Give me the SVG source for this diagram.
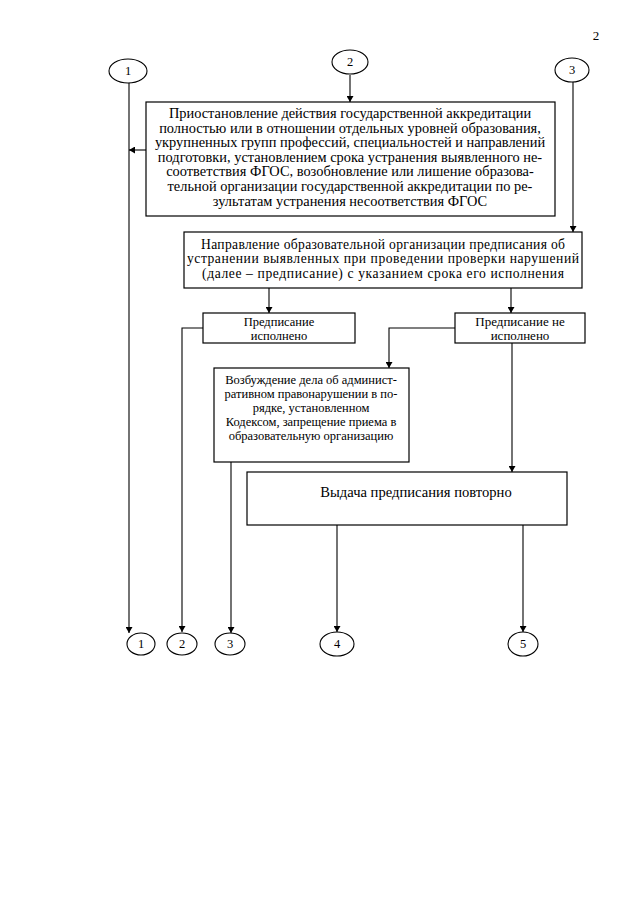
<svg xmlns="http://www.w3.org/2000/svg" width="640" height="905" viewBox="0 0 640 905">
<defs>
<marker id="ah" markerWidth="6" markerHeight="7" refX="6" refY="3.5" orient="auto" markerUnits="userSpaceOnUse">
<path d="M0,0 L6,3.5 L0,7 Z" fill="#000"/>
</marker>
<style>
.b{fill:#fff;stroke:#000;stroke-width:1.2}
.c{fill:#fff;stroke:#000;stroke-width:1.1}
.l{fill:none;stroke:#000;stroke-width:1.1}
.a{marker-end:url(#ah)}
text{font-family:"Liberation Serif","Times New Roman",serif;font-size:12.5px;fill:#000;text-anchor:middle}
.big{font-size:14.4px}
.mid{font-size:13.6px}
.n{font-size:12.5px}
</style>
</defs>
<rect width="640" height="905" fill="#fff"/>
<text x="596" y="40" style="font-size:13px">2</text>

<g id="connectors">
<path class="l a" d="M350,75 V102"/>
<path class="l a" d="M146,150 H129"/>
<path class="l a" d="M129,82 V633"/>
<path class="l a" d="M573,82 V232"/>
<path class="l a" d="M269,288 V313"/>
<path class="l a" d="M511,288 V313"/>
<path class="l a" d="M203,328 H182 V632"/>
<path class="l a" d="M455,328 H389 V368"/>
<path class="l a" d="M512,343 V472"/>
<path class="l a" d="M231,462 V633"/>
<path class="l a" d="M337,525 V632"/>
<path class="l a" d="M523,525 V632"/>
</g>

<g id="c1top"><ellipse class="c" cx="128" cy="71" rx="19" ry="12"/><text class="n" x="128" y="75">1</text></g>
<g id="c2top"><ellipse class="c" cx="350" cy="62" rx="18" ry="12"/><text class="n" x="350" y="66">2</text></g>
<g id="c3top"><ellipse class="c" cx="572" cy="70" rx="17" ry="12"/><text class="n" x="572" y="74">3</text></g>

<g id="box1">
<rect class="b" x="146" y="102" width="409" height="114"/>
<text class="big" x="350" y="118">Приостановление действия государственной аккредитации</text>
<text class="big" x="350" y="132.6">полностью или в отношении отдельных уровней образования,</text>
<text class="big" x="350" y="147.2">укрупненных групп профессий, специальностей и направлений</text>
<text class="big" x="350" y="161.8">подготовки, установлением срока устранения  выявленного не-</text>
<text class="big" x="350" y="176.4">соответствия ФГОС, возобновление или лишение образова-</text>
<text class="big" x="350" y="191">тельной организации государственной аккредитации по ре-</text>
<text class="big" x="350" y="205.6">зультатам устранения несоответствия ФГОС</text>
</g>

<g id="box2">
<rect class="b" x="184" y="232" width="398" height="56"/>
<text class="mid" x="383" y="249" textLength="364" lengthAdjust="spacing">Направление образовательной организации предписания об</text>
<text class="mid" x="383" y="263.3" textLength="392" lengthAdjust="spacing">устранении выявленных при проведении проверки нарушений</text>
<text class="mid" x="383" y="277.6" textLength="362" lengthAdjust="spacing">(далее – предписание) с указанием срока его исполнения</text>
</g>

<g id="box_done">
<rect class="b" x="203" y="313" width="152" height="30"/>
<text x="279" y="326">Предписание</text>
<text x="279" y="340">исполнено</text>
</g>

<g id="box_notdone">
<rect class="b" x="455" y="313" width="130" height="30"/>
<text x="520" y="326" style="font-size:13px">Предписание не</text>
<text x="520" y="340" style="font-size:13px">исполнено</text>
</g>

<g id="box3">
<rect class="b" x="214" y="368" width="195" height="94"/>
<text x="311" y="384">Возбуждение дела об админист-</text>
<text x="311" y="398">ративном правонарушении в по-</text>
<text x="311" y="412">рядке, установленном</text>
<text x="311" y="426">Кодексом, запрещение приема в</text>
<text x="311" y="440">образовательную организацию</text>
</g>

<g id="box4">
<rect class="b" x="247" y="472" width="320" height="53"/>
<text style="font-size:14.6px" x="416" y="497">Выдача предписания повторно</text>
</g>

<g id="c1"><ellipse class="c" cx="141" cy="644" rx="14" ry="11"/><text class="n" x="141" y="648">1</text></g>
<g id="c2"><ellipse class="c" cx="182" cy="644" rx="15" ry="11"/><text class="n" x="182" y="648">2</text></g>
<g id="c3"><ellipse class="c" cx="230" cy="644" rx="15" ry="11"/><text class="n" x="230" y="648">3</text></g>
<g id="c4"><ellipse class="c" cx="337" cy="644" rx="17" ry="12"/><text class="n" x="337" y="648">4</text></g>
<g id="c5"><ellipse class="c" cx="523" cy="644" rx="15" ry="12"/><text class="n" x="523" y="648">5</text></g>
</svg>
